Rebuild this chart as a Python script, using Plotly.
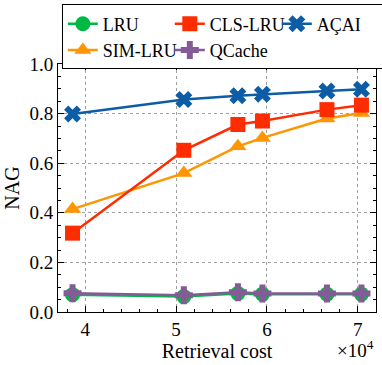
"""NAG vs retrieval cost for the cache policies."""

import plotly.graph_objs as go

# retrieval cost (x) for each operating point
retrieval_cost = [38600, 50850, 56800, 59500, 66600, 70400]

nag_lru = [0.070, 0.062, 0.075, 0.072, 0.072, 0.072]
nag_sim_lru = [0.415, 0.560, 0.668, 0.702, 0.780, 0.802]
nag_cls_lru = [0.318, 0.652, 0.756, 0.770, 0.816, 0.834]
nag_qcache = [0.076, 0.068, 0.080, 0.075, 0.075, 0.075]
nag_acai = [0.798, 0.857, 0.872, 0.878, 0.891, 0.898]

x_tickvals = [40000, 50000, 60000, 70000]
x_ticktext = ["4", "5", "6", "7"]

FONT = "Liberation Serif"
FS = 19

# (name, values, colour, symbol, legend rank)
series = [
    ("LRU", nag_lru, "#00B945", "circle", 1),
    ("SIM-LRU", nag_sim_lru, "#FF9500", "triangle-up", 4),
    ("CLS-LRU", nag_cls_lru, "#FF2C00", "square", 2),
    ("QCache", nag_qcache, "#845B97", "cross", 5),
    ("AÇAI", nag_acai, "#0C5DA5", "x", 3),
]

traces = []
for name, vals, color, symbol, rank in series:
    traces.append(
        go.Scatter(
            x=retrieval_cost,
            y=vals,
            name=name,
            mode="lines+markers",
            line=dict(color=color, width=2.5),
            marker=dict(symbol=symbol, size=15, color=color, line=dict(width=0)),
            legendrank=rank,
        )
    )

fig = go.Figure(data=traces)

axis_common = dict(
    showline=True,
    linecolor="black",
    linewidth=1,
    mirror="allticks",
    ticks="inside",
    ticklen=6,
    tickwidth=1,
    tickcolor="black",
    showgrid=True,
    gridcolor="#a0a0a0",
    griddash="dot",
    gridwidth=1,
    zeroline=False,
    automargin=False,
    tickfont=dict(family=FONT, size=FS, color="black"),
)

fig.update_xaxes(
    **axis_common,
    range=[37000, 72000],
    tickvals=x_tickvals,
    ticktext=x_ticktext,
    minor=dict(ticks="inside", ticklen=3, dtick=2000, tick0=0, tickcolor="black", showgrid=False),
    title=dict(text="Retrieval cost", font=dict(family=FONT, size=20, color="black"), standoff=2),
)
fig.update_yaxes(
    **axis_common,
    range=[0, 1.0],
    dtick=0.2,
    tickformat=".1f",
    minor=dict(ticks="inside", ticklen=3, dtick=0.05, tickcolor="black", showgrid=False),
    title=dict(text="NAG", font=dict(family=FONT, size=20, color="black"), standoff=4),
)

fig.add_annotation(
    x=1.0,
    y=-0.15,
    xref="paper",
    yref="paper",
    xanchor="right",
    yanchor="middle",
    text="×10<sup>4</sup>",
    showarrow=False,
    font=dict(family=FONT, size=FS, color="black"),
)

fig.update_layout(
    width=382,
    height=365,
    margin=dict(l=58, r=6, t=64, b=53, autoexpand=False),
    plot_bgcolor="white",
    paper_bgcolor="white",
    font=dict(family=FONT, size=FS, color="black"),
    legend=dict(
        orientation="h",
        x=0.012,
        y=1.24,
        xanchor="left",
        yanchor="top",
        entrywidth=62,
        entrywidthmode="pixels",
        bordercolor="black",
        borderwidth=1,
        bgcolor="white",
        font=dict(family=FONT, size=FS - 1, color="black"),
        tracegroupgap=0,
        itemwidth=30,
    ),
)

# the page's default body margin would push the fixed-size figure off the window
fig.write_html(
    "out.html",
    config={"displayModeBar": False},
    post_script="document.body.style.margin='0';",
)
